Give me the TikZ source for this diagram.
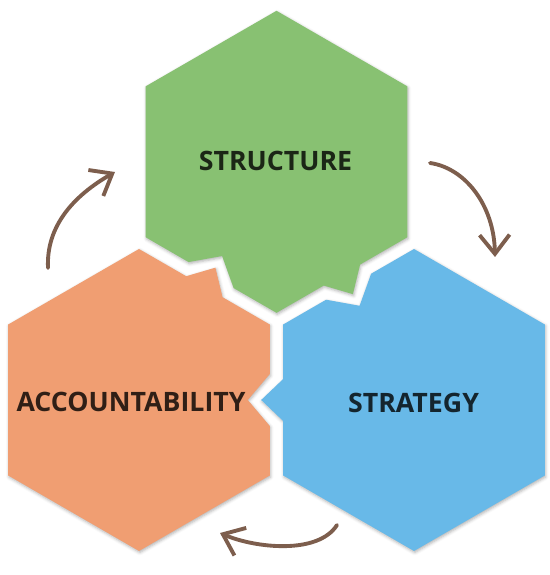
\documentclass[tikz,border=0pt]{standalone}
\usepackage{fontspec}
\setmainfont{Open Sans}
\usepackage{tikz}
\usetikzlibrary{arrows.meta,shadows.blur}

\definecolor{hexgreen}{HTML}{88C172}
\definecolor{hexorange}{HTML}{F09E72}
\definecolor{hexblue}{HTML}{68B9E8}
\definecolor{arrowbrown}{HTML}{7D5E4D}

\tikzset{
  piece shadow/.style={blur shadow={shadow xshift=0.04cm,shadow yshift=-0.08cm,shadow blur radius=0.15cm,shadow opacity=30}},
  hextext/.style={font=\fontsize{38}{41}\selectfont\bfseries,text=black,text opacity=0.8,inner sep=0pt},
  turn/.style={line width=5.5pt,line cap=round,arrowbrown,-{Straight Barb[length=0.95cm,width=1.5cm]}}
}

% one piece: hexagon with a notch on the lower left edge and a tab on the lower right edge
\newcommand{\hexpiece}[3]{%
\fill[#3,shift={#1},rotate=#2,piece shadow]
  (130.77,75.5) -- (0,151) -- (-130.77,75.5) -- (-130.77,-75.5)
  -- (-87.92,-100.27) -- (-54.4,-94.22) -- (-42.88,-126.27)
  -- (0,-151)
  -- (47.21,-123.77) -- (76.4,-132.33) -- (83.59,-102.77)
  -- (130.77,-75.5) -- cycle;}

\begin{document}
\begin{tikzpicture}[x=0.05cm,y=0.05cm]
\useasboundingbox (0,0) rectangle (549,575);

\hexpiece{(276.5,413.2)}{0}{hexgreen}
\hexpiece{(139,175)}{120}{hexorange}
\hexpiece{(414,175)}{-120}{hexblue}

\begin{scope}[every node/.style={hextext}]
\node (structure) at (275.5,414) {STRUCTURE};
\node (accountability) at (131,173) {ACCOUNTABILITY};
\node (strategy) at (413.5,172) {STRATEGY};
\end{scope}

\coordinate (a1) at (48,307);
\coordinate (b1) at (115,403);
\coordinate (a2) at (430,412);
\coordinate (b2) at (495,318);
\coordinate (a3) at (337,50);
\coordinate (b3) at (220,42);

\draw[turn] (a1) .. controls (46,350) and (75,380) .. (b1);
\draw[turn] (a2) .. controls (465,407) and (494,370) .. (b2);
\draw[turn] (a3) .. controls (318,20) and (255,27) .. (b3);

\end{tikzpicture}
\end{document}
